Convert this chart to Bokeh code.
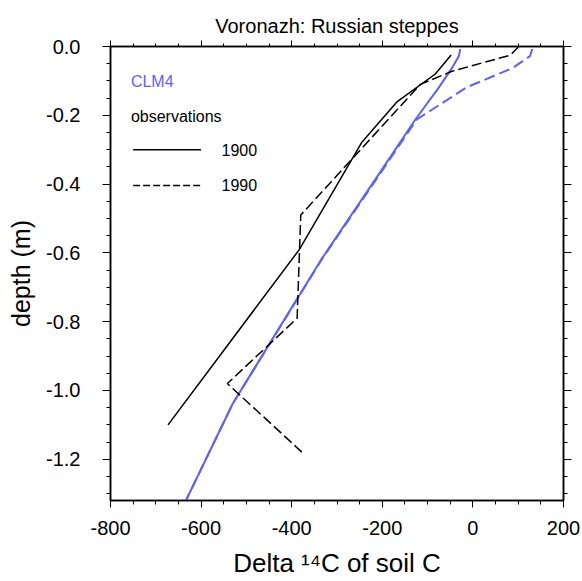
from bokeh.plotting import figure
from bokeh.models import (Range1d, LinearAxis, SingleIntervalTicker,
                          NumeralTickFormatter, CustomJSTickFormatter, Label)
from bokeh.embed import file_html
from bokeh.resources import INLINE

# ---------------- data ----------------
# CLM4 model (soil layer node depths, m)
clm_depth = [-0.0071, -0.0279, -0.0623, -0.1189, -0.2122, -0.3661, -0.6198, -1.0380, -1.7276]
clm4_1900 = [-28, -31, -46, -75, -127, -205, -335, -530, -783]
clm4_1990 = [131, 126, 88, -14, -124, -203, -334, -530, -783]

# observations
obs1900_depth = [-0.025, -0.08, -0.16, -0.28, -0.59, -1.10]
obs1900_d14c = [-48, -83, -167, -246, -383, -673]
obs1990_depth = [0.0, -0.025, -0.072, -0.11, -0.49, -0.79, -0.98, -1.18]
obs1990_d14c = [101, 83, -46, -116, -380, -388, -542, -377]

x_ticks_interval = 200
y_ticks_interval = 0.2

title_text = "Voronazh: Russian steppes"
x_title = "Delta \u00b9\u2074C of soil C"
y_title = "depth (m)"

FONT = "Liberation Sans"
BLUE = "#6060ff"
BLACK = "#000000"

p = figure(frame_width=453, frame_height=454,
           x_range=Range1d(-800, 200), y_range=Range1d(-1.32, 0),
           output_backend="svg", toolbar_location=None,
           x_axis_location=None, y_axis_location=None,
           min_border_left=110, min_border_top=46,
           min_border_right=19, min_border_bottom=81)
p.xgrid.visible = False
p.ygrid.visible = False
p.outline_line_color = BLACK
p.outline_line_width = 1.5
p.background_fill_color = "white"
p.border_fill_color = "white"

p.title.text = title_text
p.title.align = "center"
p.title.text_font = FONT
p.title.text_font_size = "20px"
p.title.text_font_style = "normal"
p.title.text_color = BLACK
p.title.standoff = 8


def axis(interval, tick_out, minor_out, show_labels, standoff, fmt=None):
    ax = LinearAxis(ticker=SingleIntervalTicker(interval=interval, num_minor_ticks=4),
                    major_tick_out=tick_out, major_tick_in=0,
                    minor_tick_out=minor_out, minor_tick_in=0,
                    axis_line_color=BLACK, axis_line_width=1.5,
                    major_tick_line_color=BLACK, minor_tick_line_color=BLACK,
                    major_tick_line_width=1, minor_tick_line_width=1,
                    major_label_standoff=standoff,
                    major_label_text_font=FONT,
                    major_label_text_color=BLACK,
                    axis_label_text_font=FONT,
                    axis_label_text_color=BLACK,
                    axis_label_text_font_style="normal")
    if show_labels:
        ax.major_label_text_font_size = "20px"
        if fmt is not None:
            ax.formatter = fmt
    else:
        ax.formatter = CustomJSTickFormatter(code="return ''")
        ax.major_label_text_font_size = "1px"
        ax.major_label_standoff = 0
    return ax


xb = axis(x_ticks_interval, 7, 4, True, 13, NumeralTickFormatter(format="0"))
xb.axis_label = x_title
xb.axis_label_text_font_size = "26px"
xb.axis_label_standoff = 10
p.add_layout(xb, "below")
xt = axis(x_ticks_interval, 6, 3, False, 0)
p.add_layout(xt, "above")
yl = axis(y_ticks_interval, 8, 4, True, 22, NumeralTickFormatter(format="0.0"))
yl.axis_label = y_title
yl.axis_label_text_font_size = "25px"
yl.axis_label_standoff = 8
p.add_layout(yl, "left")
yr = axis(y_ticks_interval, 8, 4, False, 0)
p.add_layout(yr, "right")

# ---------------- lines ----------------
p.line(clm4_1990, clm_depth, line_color=BLUE, line_width=2, line_dash="11 5")
p.line(clm4_1900, clm_depth, line_color=BLUE, line_width=2)
p.line(obs1900_d14c, obs1900_depth, line_color=BLACK, line_width=1.5)
p.line(obs1990_d14c, obs1990_depth, line_color=BLACK, line_width=1.5, line_dash="10 4")

# ---------------- legend (drawn by hand) ----------------
leg_x0, leg_x1 = -750, -600
leg_text_x0, leg_tx = -755, -555
p.add_layout(Label(x=leg_text_x0, y=-0.103, text="CLM4", text_color=BLUE,
                   text_font=FONT, text_font_size="16px", text_baseline="alphabetic"))
p.add_layout(Label(x=leg_text_x0, y=-0.203, text="observations", text_color=BLACK,
                   text_font=FONT, text_font_size="16px", text_baseline="alphabetic"))
p.line([leg_x0, leg_x1], [-0.300, -0.300], line_color=BLACK, line_width=1.5)
p.add_layout(Label(x=leg_tx, y=-0.300, text="1900", text_color=BLACK,
                   text_font=FONT, text_font_size="16px", text_baseline="alphabetic"))
p.line([leg_x0, leg_x1], [-0.404, -0.404], line_color=BLACK, line_width=1.5, line_dash="7 3")
p.add_layout(Label(x=leg_tx, y=-0.402, text="1990", text_color=BLACK,
                   text_font=FONT, text_font_size="16px", text_baseline="alphabetic"))

open("out.html", "w").write(file_html(p, INLINE))
